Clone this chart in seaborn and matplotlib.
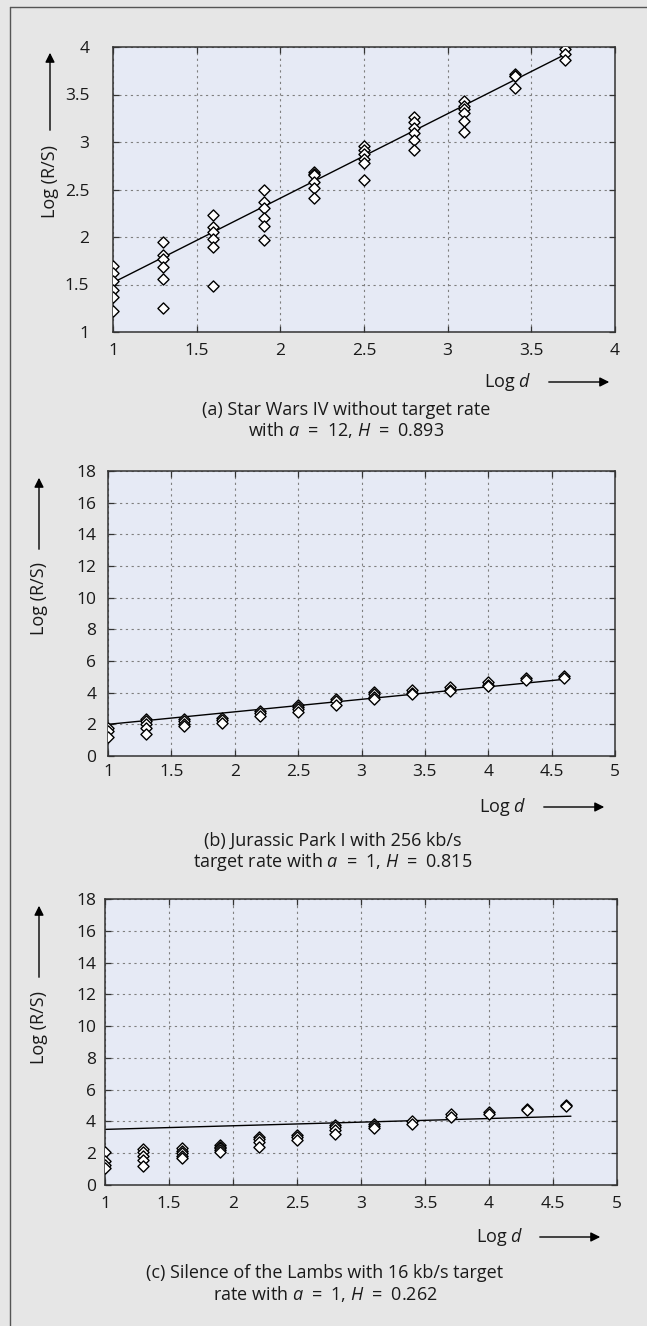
import matplotlib
matplotlib.use("Agg")
import matplotlib.pyplot as plt
import seaborn as sns
import pandas as pd
from matplotlib.lines import Line2D
from matplotlib.patches import FancyArrowPatch

# ---------------- data ----------------
a_levels = [1.0, 1.3, 1.6, 1.9, 2.2, 2.5, 2.8, 3.1, 3.4, 3.7]
a_values = [
    [1.70, 1.62, 1.54, 1.44, 1.37, 1.22],
    [1.95, 1.81, 1.77, 1.68, 1.56, 1.25],
    [2.23, 2.11, 2.05, 1.98, 1.90, 1.48],
    [2.50, 2.37, 2.31, 2.20, 2.12, 1.97],
    [2.68, 2.66, 2.65, 2.58, 2.52, 2.41],
    [2.96, 2.92, 2.87, 2.82, 2.78, 2.60],
    [3.26, 3.21, 3.15, 3.10, 3.02, 2.92],
    [3.43, 3.38, 3.35, 3.31, 3.22, 3.11],
    [3.72, 3.70, 3.69, 3.57],
    [3.98, 3.93, 3.86],
]
a_fit_x = [1.0, 3.7]
a_fit_y = [1.52, 3.92]

bc_levels = [1.0, 1.3, 1.6, 1.9, 2.2, 2.5, 2.8, 3.1, 3.4, 3.7, 4.0, 4.3, 4.6]
b_values = [
    [1.80, 1.55, 1.20],
    [2.35, 2.20, 2.00, 1.80, 1.40],
    [2.35, 2.20, 2.05, 1.90],
    [2.40, 2.30, 2.10],
    [2.85, 2.70, 2.55],
    [3.25, 3.10, 2.95, 2.80],
    [3.60, 3.45, 3.20],
    [4.05, 3.90, 3.75, 3.60],
    [4.15, 4.00, 3.90],
    [4.35, 4.20, 4.10],
    [4.70, 4.50, 4.40],
    [4.90, 4.80],
    [5.05, 4.95],
]
b_fit_x = [1.0, 4.62]
b_fit_y = [2.00, 4.86]

c_values = [
    [2.05, 1.50, 1.25, 1.05],
    [2.25, 2.05, 1.85, 1.55, 1.20],
    [2.30, 2.15, 2.00, 1.85, 1.70],
    [2.50, 2.40, 2.30, 2.20, 2.05],
    [3.05, 2.90, 2.70, 2.40],
    [3.15, 3.00, 2.85],
    [3.80, 3.65, 3.45, 3.20],
    [3.85, 3.70, 3.60],
    [4.00, 3.85],
    [4.45, 4.25],
    [4.60, 4.45],
    [4.80, 4.75],
    [5.05, 4.95],
]
c_fit_x = [1.0, 4.64]
c_fit_y = [3.50, 4.33]

a_xticks = [1, 1.5, 2, 2.5, 3, 3.5, 4]
a_yticks = [1, 1.5, 2, 2.5, 3, 3.5, 4]
bc_xticks = [1, 1.5, 2, 2.5, 3, 3.5, 4, 4.5, 5]
bc_yticks = [0, 2, 4, 6, 8, 10, 12, 14, 16, 18]

EQ = "\u2002=\u2002"
captions = [
    ["(a) Star Wars IV without target rate",
     f"with $a${EQ}12, $H${EQ}0.893"],
    ["(b) Jurassic Park I with 256 kb/s",
     f"target rate with $a${EQ}1, $H${EQ}0.815"],
    ["(c) Silence of the Lambs with 16 kb/s target",
     f"rate with $a${EQ}1, $H${EQ}0.262"],
]
ylabel_text = "Log (R/S)"
xlabel_text = "Log $d$"


def to_frame(levels, values):
    rows = []
    for x, ys in zip(levels, values):
        for y in ys:
            rows.append({"logd": x, "logrs": y})
    return pd.DataFrame(rows)


# ---------------- style ----------------
sns.set_style("ticks")
plt.rcParams["font.family"] = ["Open Sans", "DejaVu Sans"]
plt.rcParams["mathtext.fontset"] = "custom"
plt.rcParams["mathtext.rm"] = "Open Sans"
plt.rcParams["mathtext.it"] = "Open Sans:italic"

W, H = 647, 1326
BG = "#e6e6e6"
FACE = "#e6eaf5"
FS_TICK = 12.5
FS_TXT = 13
TXT = "#1a1a1a"

fig = plt.figure(figsize=(W / 100, H / 100), dpi=100, facecolor=BG)


def fx(x):
    return x / W


def fy(y):
    return 1 - y / H


def make_axes(l, t, r, b):
    return fig.add_axes([fx(l), fy(b), fx(r) - fx(l), (b - t) / H])


panels = [
    dict(box=(113, 47, 615, 332), df=to_frame(a_levels, a_values),
         fit=(a_fit_x, a_fit_y), xlim=(1, 4), ylim=(1, 4),
         xt=a_xticks, yt=a_yticks, ypad=17, xpad=8,
         yarrow=(50, 133, 50, 50), ylab=(50, 181),
         xlab=(508, 382), xarrow=(546, 612), cap=(346, 410, 430)),
    dict(box=(108, 471, 615, 756), df=to_frame(bc_levels, b_values),
         fit=(b_fit_x, b_fit_y), xlim=(1, 5), ylim=(0, 18),
         xt=bc_xticks, yt=bc_yticks, ypad=8.5, xpad=6,
         yarrow=(39, 552, 39, 475), ylab=(39, 599),
         xlab=(503, 807), xarrow=(541, 607), cap=(333, 841, 862)),
    dict(box=(105, 899, 617, 1185), df=to_frame(bc_levels, c_values),
         fit=(c_fit_x, c_fit_y), xlim=(1, 5), ylim=(0, 18),
         xt=bc_xticks, yt=bc_yticks, ypad=6.5, xpad=8,
         yarrow=(39, 980, 39, 903), ylab=(39, 1027),
         xlab=(500, 1237), xarrow=(537, 603), cap=(325, 1273, 1294)),
]

for i, p in enumerate(panels):
    ax = make_axes(*p["box"])
    ax.set_facecolor(FACE)
    sns.lineplot(x=p["fit"][0], y=p["fit"][1], color="black", lw=1.0,
                 ax=ax, zorder=2)
    sns.scatterplot(data=p["df"], x="logd", y="logrs", marker="D", s=32,
                    color="white", edgecolor="black", linewidth=1.0,
                    ax=ax, zorder=3, legend=False)
    ax.set_xlim(*p["xlim"])
    ax.set_ylim(*p["ylim"])
    ax.set_xticks(p["xt"])
    ax.set_yticks(p["yt"])
    ax.set_xticklabels([f"{v:g}" for v in p["xt"]])
    ax.set_yticklabels([f"{v:g}" for v in p["yt"]])
    ax.set_xlabel("")
    ax.set_ylabel("")
    ax.set_axisbelow(True)
    ax.grid(True, linestyle=(0, (2, 3.2)), color="#7f7f7f", lw=0.8)
    for s in ax.spines.values():
        s.set_visible(True)
        s.set_color("#333333")
        s.set_linewidth(1.1)
    ax.tick_params(axis="both", direction="in", top=True, right=True,
                   length=4.3, width=0.9, color="#333333",
                   labelsize=FS_TICK, labelcolor=TXT)
    ax.tick_params(axis="y", pad=p["ypad"])
    ax.tick_params(axis="x", pad=p["xpad"])

    # y label with arrow
    x0, y0, x1, y1 = p["yarrow"]
    fig.add_artist(FancyArrowPatch(
        (fx(x0), fy(y0)), (fx(x1), fy(y1)), transform=fig.transFigure,
        arrowstyle="-|>", mutation_scale=14, color="black", lw=1.0))
    fig.text(fx(p["ylab"][0]), fy(p["ylab"][1]), ylabel_text, rotation=90,
             ha="center", va="center", fontsize=FS_TXT, color=TXT)

    # x label with arrow
    fig.text(fx(p["xlab"][0]), fy(p["xlab"][1]), xlabel_text,
             ha="center", va="center", fontsize=FS_TXT, color=TXT)
    xa0, xa1 = p["xarrow"]
    fig.add_artist(FancyArrowPatch(
        (fx(xa0), fy(p["xlab"][1])), (fx(xa1), fy(p["xlab"][1])),
        transform=fig.transFigure, arrowstyle="-|>", mutation_scale=14,
        color="black", lw=1.0))

    # caption
    cx, cy1, cy2 = p["cap"]
    fig.text(fx(cx), fy(cy1), captions[i][0], ha="center", va="center",
             fontsize=FS_TXT, color=TXT)
    fig.text(fx(cx), fy(cy2), captions[i][1], ha="center", va="center",
             fontsize=FS_TXT, color=TXT)

# outer frame (left and top edges)
fig.add_artist(Line2D([fx(10), fx(10)], [fy(7), fy(H)], transform=fig.transFigure,
                      color="#555555", lw=1.0))
fig.add_artist(Line2D([fx(10), fx(W)], [fy(7), fy(7)], transform=fig.transFigure,
                      color="#555555", lw=1.0))

fig.savefig("out.png", dpi=100, facecolor=BG)
